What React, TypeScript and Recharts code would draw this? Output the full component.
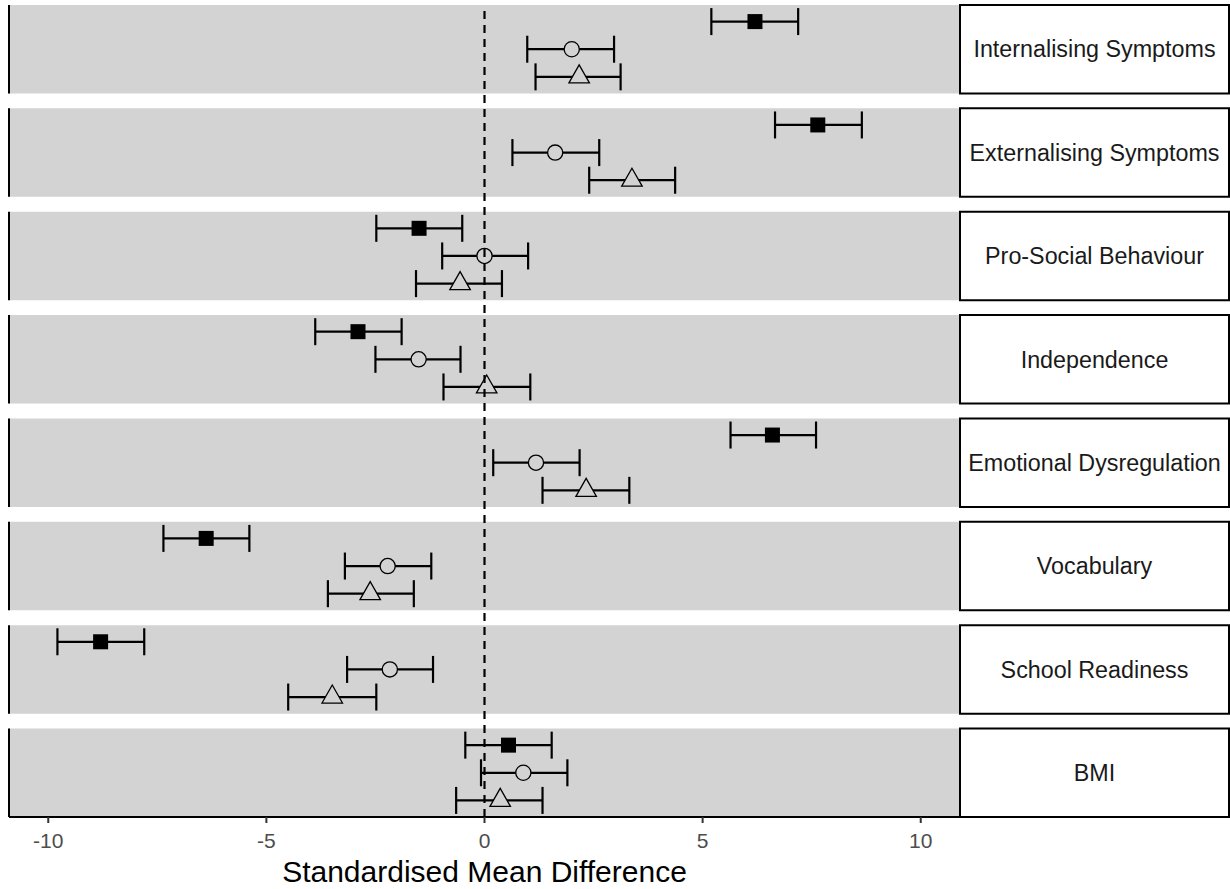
import React from 'react';
import {
  ScatterChart,
  Scatter,
  XAxis,
  YAxis,
  ErrorBar,
  ReferenceArea,
  ReferenceLine,
} from 'recharts';

// ---------- data ----------
const outcomes = [
  'Internalising Symptoms',
  'Externalising Symptoms',
  'Pro-Social Behaviour',
  'Independence',
  'Emotional Dysregulation',
  'Vocabulary',
  'School Readiness',
  'BMI',
];

const squareEst = [6.2, 7.64, -1.5, -2.9, 6.6, -6.38, -8.8, 0.55];
const squareLow = [5.2, 6.66, -2.48, -3.88, 5.64, -7.36, -9.79, -0.44];
const squareHigh = [7.19, 8.65, -0.51, -1.9, 7.6, -5.39, -7.8, 1.54];

const circleEst = [2.0, 1.62, 0.0, -1.51, 1.18, -2.22, -2.17, 0.89];
const circleLow = [0.98, 0.64, -0.97, -2.5, 0.2, -3.2, -3.15, -0.08];
const circleHigh = [2.97, 2.63, 1.0, -0.55, 2.18, -1.22, -1.18, 1.9];

const triangleEst = [2.17, 3.38, -0.56, 0.05, 2.33, -2.62, -3.49, 0.36];
const triangleLow = [1.17, 2.4, -1.57, -0.94, 1.33, -3.59, -4.5, -0.65];
const triangleHigh = [3.12, 4.37, 0.4, 1.05, 3.32, -1.62, -2.48, 1.33];

const xTicks = [-10, -5, 0, 5, 10];

// ---------- layout ----------
const FONT = '"Liberation Sans", Arial, Helvetica, sans-serif';
const X_MIN = -10.9;
const X_MAX = 10.9;
const PANEL_H = 3.2;
const GAP = 0.54;
const TOTAL = outcomes.length * PANEL_H + (outcomes.length - 1) * GAP;
const CHART_W = 1230;
const CHART_H = 889;
const MARGIN = { top: 5, right: 270, bottom: 0, left: 9 };
const PLOT_W = CHART_W - MARGIN.left - MARGIN.right;
const STRIP_X2 = X_MAX + ((X_MAX - X_MIN) * 269) / PLOT_W;
const PANEL_FILL = '#d3d3d3';

const panelTop = (i: number) => i * (PANEL_H + GAP);

const build = (est: number[], lo: number[], hi: number[], row: number) =>
  est.map((v, i) => ({
    x: v,
    y: panelTop(i) + 0.6 + row,
    err: [v - lo[i], hi[i] - v],
  }));

const squareData = build(squareEst, squareLow, squareHigh, 0);
const circleData = build(circleEst, circleLow, circleHigh, 1);
const triangleData = build(triangleEst, triangleLow, triangleHigh, 2);

// ---------- marker shapes ----------
const SquareShape = (p: any) => (
  <rect x={p.cx - 7.5} y={p.cy - 7.5} width={15} height={15} fill="#000" />
);
const CircleShape = (p: any) => (
  <circle cx={p.cx} cy={p.cy} r={7.6} fill={PANEL_FILL} stroke="#000" strokeWidth={1.3} />
);
const TriangleShape = (p: any) => {
  const w = 20.5;
  const h = 18;
  const pts = `${p.cx},${p.cy - (2 * h) / 3} ${p.cx + w / 2},${p.cy + h / 3} ${p.cx - w / 2},${p.cy + h / 3}`;
  return <polygon points={pts} fill={PANEL_FILL} stroke="#000" strokeWidth={1.3} />;
};
const NoShape = () => <g />;

export default function App() {
  return (
    <div style={{ position: 'absolute', left: 0, top: 0, width: CHART_W, height: CHART_H, fontFamily: FONT }}>
      <ScatterChart width={CHART_W} height={CHART_H} margin={MARGIN}>
        {outcomes.map((name, i) => (
          <ReferenceArea
            key={`panel-${i}`}
            x1={X_MIN}
            x2={X_MAX}
            y1={panelTop(i)}
            y2={panelTop(i) + PANEL_H}
            fill={PANEL_FILL}
            fillOpacity={1}
            stroke="none"
            ifOverflow="visible"
          />
        ))}
        {outcomes.map((name, i) => (
          <ReferenceArea
            key={`strip-${i}`}
            x1={X_MAX}
            x2={STRIP_X2}
            y1={panelTop(i)}
            y2={panelTop(i) + PANEL_H}
            fill="#ffffff"
            fillOpacity={1}
            stroke="#000"
            strokeWidth={2}
            ifOverflow="visible"
            label={{ value: name, position: 'center', fill: '#1a1a1a', fontSize: 23.3, fontFamily: FONT }}
          />
        ))}
        {outcomes.map((name, i) => (
          <ReferenceLine
            key={`yline-${i}`}
            segment={[
              { x: X_MIN, y: panelTop(i) },
              { x: X_MIN, y: panelTop(i) + PANEL_H },
            ]}
            stroke="#000"
            strokeWidth={2}
            ifOverflow="visible"
          />
        ))}
        <XAxis
          type="number"
          dataKey="x"
          domain={[X_MIN, X_MAX]}
          ticks={xTicks}
          allowDataOverflow
          height={72}
          axisLine={{ stroke: '#000', strokeWidth: 2 }}
          tickLine={{ stroke: '#333', strokeWidth: 2 }}
          tickSize={6}
          tickMargin={10}
          tick={{ fill: '#4d4d4d', fontSize: 21, fontFamily: FONT }}
          label={{
            value: 'Standardised Mean Difference',
            position: 'insideBottom',
            offset: 7,
            fill: '#000',
            fontSize: 30,
            fontFamily: FONT,
          }}
        />
        <YAxis type="number" dataKey="y" domain={[0, TOTAL]} reversed hide allowDataOverflow />
        <Scatter data={squareData} isAnimationActive={false} shape={NoShape}>
          <ErrorBar dataKey="err" direction="x" width={13.5} stroke="#000" strokeWidth={2.2} isAnimationActive={false} />
        </Scatter>
        <Scatter data={circleData} isAnimationActive={false} shape={NoShape}>
          <ErrorBar dataKey="err" direction="x" width={13.5} stroke="#000" strokeWidth={2.2} isAnimationActive={false} />
        </Scatter>
        <Scatter data={triangleData} isAnimationActive={false} shape={NoShape}>
          <ErrorBar dataKey="err" direction="x" width={13.5} stroke="#000" strokeWidth={2.2} isAnimationActive={false} />
        </Scatter>
        <Scatter data={squareData} isAnimationActive={false} shape={SquareShape} />
        <Scatter data={circleData} isAnimationActive={false} shape={CircleShape} />
        <Scatter data={triangleData} isAnimationActive={false} shape={TriangleShape} />
        <ReferenceLine x={0} stroke="#000" strokeWidth={2.2} strokeDasharray="8 6" zIndex={700} />
      </ScatterChart>
    </div>
  );
}
